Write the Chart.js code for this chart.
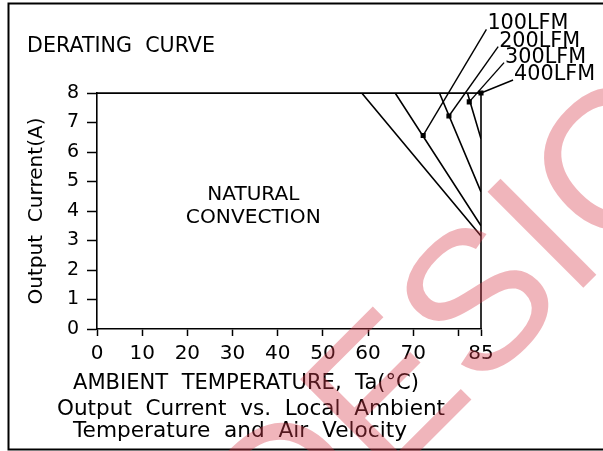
<!DOCTYPE html>
<html>
<head>
<meta charset="utf-8">
<title>Derating Curve</title>
<script src="https://cdn.jsdelivr.net/npm/chart.js@4/dist/chart.umd.min.js"></script>
<style>
  html, body { margin: 0; padding: 0; background: #fff; }
  canvas { display: block; }
</style>
</head>
<body>
<canvas id="deratingChart" width="603" height="451"></canvas>
<script>
// Axis ticks
const xTickValues = [0, 10, 20, 30, 40, 50, 60, 70, 80, 85];
const xTickLabels = ['0', '10', '20', '30', '40', '50', '60', '70', '', '85'];
const yMax = 8;

// Derating curves: full current until the knee, then straight down to 85°C
const curveNames = ['NATURAL CONVECTION', '100LFM', '200LFM', '300LFM', '400LFM'];
const kneeTemps = [58.6, 66, 75.8, 82, 85];
const endCurrents = [3.15, 3.5, 4.65, 6.45, 8];

// Leader lines: from label corner to the marker on each curve
const labelTexts = ['100LFM', '200LFM', '300LFM', '400LFM'];
const labelTemps = [86.2, 88.8, 90.1, 92.1];
const labelCurrents = [10.16, 9.57, 9.03, 8.44];
const markerTemps = [72.2, 77.9, 82.4, 85];
const markerCurrents = [6.56, 7.22, 7.7, 8];

const FONT = '"DejaVu Sans", sans-serif';

// Build the datasets from the arrays above
function buildDatasets() {
    const sets = [];
    curveNames.forEach((name, i) => {
        const pts = [{ x: 0, y: yMax }];
        if (kneeTemps[i] < 85) pts.push({ x: kneeTemps[i], y: yMax });
        pts.push({ x: 85, y: endCurrents[i] });
        sets.push({
            label: name,
            data: pts,
            borderColor: '#000',
            borderWidth: 1.6,
            pointRadius: 0,
            fill: false
        });
    });
    labelTexts.forEach((name, i) => {
        sets.push({
            label: name + ' leader',
            data: [
                { x: labelTemps[i], y: labelCurrents[i] },
                { x: markerTemps[i], y: markerCurrents[i] }
            ],
            borderColor: '#000',
            borderWidth: 1.4,
            pointRadius: [0, 2.6],
            pointStyle: 'rect',
            pointBackgroundColor: '#000',
            pointBorderColor: '#000',
            clip: false,
            fill: false
        });
    });
    return sets;
}

// Draw text squeezed or stretched to a given width
function fitText(ctx, str, x, y, size, width, align) {
    ctx.save();
    ctx.font = size + 'px ' + FONT;
    ctx.textBaseline = 'alphabetic';
    ctx.textAlign = 'left';
    const w = ctx.measureText(str).width;
    const k = width / w;
    let left = x;
    if (align === 'center') left = x - width / 2;
    ctx.translate(left, y);
    ctx.scale(k, 1);
    ctx.fillText(str, 0, 0);
    ctx.restore();
}

// Plugin for the frame, the box, the free texts and the watermark
const decorations = {
    id: 'decorations',
    afterDraw(chart) {
        const ctx = chart.ctx;
        const area = chart.chartArea;
        const xs = chart.scales.x;
        const ys = chart.scales.y;

        ctx.save();
        ctx.strokeStyle = '#000';
        ctx.fillStyle = '#000';

        // outer frame
        ctx.lineWidth = 2;
        ctx.strokeRect(8.5, 3.5, 620, 446);

        // top and right side of the plot box
        ctx.lineWidth = 1.6;
        ctx.beginPath();
        ctx.moveTo(area.left, area.top);
        ctx.lineTo(area.right, area.top);
        ctx.lineTo(area.right, area.bottom);
        ctx.stroke();

        // titles
        fitText(ctx, 'DERATING  CURVE', 27, 52, 21, 188);
        fitText(ctx, 'AMBIENT  TEMPERATURE,  Ta(°C)', 73, 389, 21, 346);
        fitText(ctx, 'Output  Current  vs.  Local  Ambient', 57, 415, 21, 388);
        fitText(ctx, 'Temperature  and  Air  Velocity', 73, 437, 21, 334);

        // y axis title
        ctx.save();
        ctx.translate(42, 211);
        ctx.rotate(-Math.PI / 2);
        fitText(ctx, 'Output  Current(A)', 0, 0, 20, 187, 'center');
        ctx.restore();

        // NATURAL CONVECTION note inside the plot
        fitText(ctx, 'NATURAL', xs.getPixelForValue(34.6), ys.getPixelForValue(4.38), 20, 92, 'center');
        fitText(ctx, 'CONVECTION', xs.getPixelForValue(34.6), ys.getPixelForValue(3.6), 20, 135, 'center');

        // air flow labels at the leader ends
        labelTexts.forEach((t, i) => {
            fitText(ctx, t, xs.getPixelForValue(labelTemps[i]) + 1, ys.getPixelForValue(labelCurrents[i]), 21, 81);
        });

        // watermark
        ctx.translate(284, 587);
        ctx.rotate(-Math.PI / 4);
        ctx.font = '197px "Liberation Sans", sans-serif';
        ctx.fillStyle = 'rgba(215, 60, 75, 0.38)';
        ctx.textBaseline = 'alphabetic';
        ctx.fillText('DESIGN', 0, 0);
        ctx.restore();
    }
};

let chart;

function createChart() {
    const ctx = document.getElementById('deratingChart').getContext('2d');
    chart = new Chart(ctx, {
        type: 'line',
        data: { datasets: buildDatasets() },
        options: {
            responsive: false,
            animation: false,
            layout: { padding: { left: 0, top: 93, right: 122, bottom: 82 } },
            plugins: {
                legend: { display: false },
                tooltip: { enabled: false }
            },
            scales: {
                x: {
                    type: 'linear',
                    min: 0,
                    max: 85,
                    afterBuildTicks: scale => {
                        scale.ticks = xTickValues.map(v => ({ value: v }));
                    },
                    afterFit: scale => { scale.height = 40; },
                    ticks: {
                        autoSkip: false,
                        maxRotation: 0,
                        color: '#000',
                        padding: 6,
                        font: { family: FONT, size: 20 },
                        callback: (value, index) => xTickLabels[index]
                    },
                    grid: {
                        drawOnChartArea: false,
                        tickLength: 7,
                        tickColor: '#000',
                        tickWidth: 1.5
                    },
                    border: { color: '#000', width: 1.6 }
                },
                y: {
                    min: 0,
                    max: yMax,
                    afterFit: scale => { scale.width = 97; },
                    ticks: {
                        stepSize: 1,
                        color: '#000',
                        padding: 8,
                        font: { family: FONT, size: 19 }
                    },
                    grid: {
                        drawOnChartArea: false,
                        tickLength: 10,
                        tickColor: '#000',
                        tickWidth: 1.5
                    },
                    border: { color: '#000', width: 1.6 }
                }
            }
        },
        plugins: [decorations]
    });
}

createChart();
</script>
</body>
</html>
